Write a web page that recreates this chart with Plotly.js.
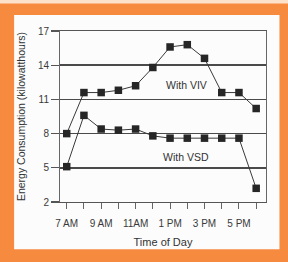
<!DOCTYPE html>
<html>
<head>
<meta charset="utf-8">
<script src="https://cdn.plot.ly/plotly-3.0.1.min.js"></script>
<style>
html,body{margin:0;padding:0;background:#f68b40;}
#chart{width:288px;height:262px;}
</style>
</head>
<body>
<div id="chart"></div>
<script>
// Hours of the day (categories)
const hours = ['7 AM','8 AM','9 AM','10 AM','11 AM','12 PM','1 PM','2 PM','3 PM','4 PM','5 PM','6 PM'];
// Tick labels shown (every other hour)
const tickLabels = ['7 AM','','9 AM','','11AM','','1 PM','','3 PM','','5 PM',''];
// Energy consumption (kilowatthours)
const withVIV = [8.0, 11.6, 11.6, 11.8, 12.2, 13.8, 15.6, 15.8, 14.6, 11.6, 11.6, 10.2];
const withVSD = [5.1, 9.6, 8.4, 8.3, 8.4, 7.8, 7.6, 7.6, 7.6, 7.6, 7.6, 3.2];
const yTicks = [2, 5, 8, 11, 14, 17];

const font = {family: 'Liberation Sans, Arial, sans-serif', color: '#3a3a3a'};

const lineStyle = {color: '#3a3a3a', width: 1};
const markerStyle = {symbol: 'square', size: 7.5, color: '#262626'};

const traces = [
  {x: hours, y: withVIV, type: 'scatter', mode: 'lines+markers', name: 'With VIV',
   line: lineStyle, marker: markerStyle, showlegend: false, cliponaxis: false},
  {x: hours, y: withVSD, type: 'scatter', mode: 'lines+markers', name: 'With VSD',
   line: lineStyle, marker: markerStyle, showlegend: false, cliponaxis: false}
];

// pixel -> paper helpers for the decorative frame
const L = 60, R = 21.5, T = 31, B = 59.5, W = 288, H = 262;
const pw = W - L - R, ph = H - T - B;
const px = v => (v - L) / pw;
const py = v => (H - B - v) / ph;

const layout = {
  width: W, height: H,
  margin: {l: L, r: R, t: T, b: B, pad: 0},
  paper_bgcolor: '#f68b40',
  plot_bgcolor: 'rgba(0,0,0,0)',
  font: font,
  shapes: [
    {type: 'rect', xref: 'paper', yref: 'paper', layer: 'below',
     x0: px(14), x1: px(280), y0: py(250), y1: py(15),
     fillcolor: '#fcfcfc', line: {width: 0}},
    {type: 'rect', xref: 'paper', yref: 'paper', layer: 'below',
     x0: px(-5), x1: px(295), y0: py(3.5), y1: py(-5),
     fillcolor: '#fde2cb', line: {width: 0}}
  ],
  xaxis: {
    type: 'category',
    range: [-0.39, 11.57],
    tickvals: hours, ticktext: tickLabels,
    ticks: 'outside', ticklen: 6, tickwidth: 1, tickcolor: '#666',
    ticklabelstandoff: 6,
    showgrid: false, zeroline: false,
    showline: true, linecolor: '#555', linewidth: 1.2, mirror: true,
    tickfont: {size: 10, family: font.family, color: '#3a3a3a'},
    title: {text: 'Time of Day', font: {size: 11, family: font.family, color: '#333'}, standoff: 10},
    fixedrange: true
  },
  yaxis: {
    range: [2, 17],
    tickvals: yTicks,
    ticks: 'outside', ticklen: 8, tickwidth: 1.2, tickcolor: '#555',
    showgrid: true, gridcolor: '#4a4a4a', gridwidth: 1.5,
    zeroline: false,
    showline: true, linecolor: '#666', linewidth: 1, mirror: true,
    tickfont: {size: 10, family: font.family, color: '#3a3a3a'},
    title: {text: 'Energy Consumption (kilowatthours)', font: {size: 10.5, family: font.family, color: '#333'}, standoff: 10},
    fixedrange: true
  },
  annotations: [
    {x: 6.97, y: 12.26, xref: 'x', yref: 'y', text: 'With VIV', showarrow: false,
     font: {size: 10.5, family: font.family, color: '#333'}},
    {x: 6.9, y: 5.97, xref: 'x', yref: 'y', text: 'With VSD', showarrow: false,
     font: {size: 10.5, family: font.family, color: '#333'}}
  ]
};

Plotly.newPlot('chart', traces, layout, {staticPlot: true, displayModeBar: false});
</script>
</body>
</html>
